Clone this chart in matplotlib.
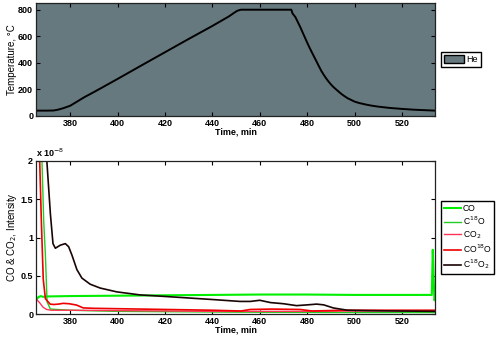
import matplotlib
matplotlib.use("Agg")
import matplotlib.pyplot as plt
import matplotlib.ticker as ticker
from matplotlib.patches import Patch

plt.rcParams["font.family"] = ["Liberation Sans", "DejaVu Sans"]

AX_BG = "#66797f"
EDGE = "#222222"

# temperature programme (He)
temp_time = [365, 370, 373, 375, 377, 380, 386, 390, 400, 410, 420, 430, 440, 447,
             449, 450.5, 452, 460, 470, 473.3, 473.8, 475, 477, 478, 480, 481,
             482, 484, 485, 486, 487, 488, 489, 490, 491, 492, 494, 495, 497,
             500, 502, 505, 507, 510, 515, 520, 525, 534]
temp_vals = [40, 40, 41, 48, 58, 77, 142, 180, 279, 380, 480, 580, 678, 750,
             775, 792, 800, 800, 800, 800, 772, 745, 672, 632, 552, 514,
             478, 408, 372, 338, 309, 283, 259, 238, 219, 203, 172, 158, 134,
             108, 97, 85, 78, 70, 60, 53, 47, 40]

# MS signals, in units of 1e-8
co_time = [365.5, 366.5, 367.5, 368.5, 370, 380, 400, 420, 440, 460, 480, 500,
           520, 532.6, 533.0, 533.4, 533.7, 534]
co_vals = [0.18, 0.22, 0.235, 0.225, 0.23, 0.235, 0.24, 0.245, 0.25, 0.255,
           0.255, 0.25, 0.25, 0.25, 0.84, 0.45, 0.18, 0.2]

c18o_time = [365.5, 368.0, 368.8, 369.5, 370.2, 371.6, 380, 400, 450, 500, 534]
c18o_vals = [3.0, 2.05, 1.2, 0.77, 0.16, 0.065, 0.05, 0.035, 0.025, 0.02, 0.02]

co2_time = [365.5, 367, 368.5, 370, 372, 380, 400, 420, 440, 460, 480, 500, 534]
co2_vals = [0.2, 0.15, 0.09, 0.06, 0.05, 0.05, 0.045, 0.04, 0.035, 0.035, 0.035,
            0.04, 0.04]

co18o_time = [365.5, 367.0, 367.8, 368.6, 369.5, 371.5, 373, 375, 377, 379.5,
              382.6, 385.5, 390, 400, 420, 440, 452, 456, 465, 477, 482, 495, 534]
co18o_vals = [3.0, 2.1, 1.2, 0.45, 0.2, 0.13, 0.125, 0.13, 0.14, 0.135,
              0.118, 0.08, 0.075, 0.07, 0.06, 0.05, 0.04, 0.06, 0.065, 0.06,
              0.04, 0.05, 0.05]

c18o2_time = [365.5, 370.0, 371.6, 372.7, 373.7, 375.8, 377.9, 379.3, 380.7,
              382.8, 384.9, 388.4, 392.6, 399.6, 409.5, 420, 440, 451.6, 456,
              460, 464.5, 470, 475.5, 480, 484, 487, 491, 497, 505, 519, 534]
c18o2_vals = [5.0, 2.05, 1.31, 0.92, 0.86, 0.90, 0.92, 0.88, 0.77, 0.58, 0.47,
              0.39, 0.34, 0.29, 0.25, 0.23, 0.19, 0.165, 0.165, 0.18, 0.15,
              0.135, 0.11, 0.12, 0.13, 0.12, 0.08, 0.05, 0.045, 0.04, 0.035]

time_ticks = [380, 400, 420, 440, 460, 480, 500, 520]


def style_axes(ax):
    ax.tick_params(direction="in", length=3, width=0.8, top=True, right=True,
                   labelsize=6.5, pad=2, colors="black")
    for lab in ax.get_xticklabels() + ax.get_yticklabels():
        lab.set_fontweight("bold")
    for sp in ax.spines.values():
        sp.set_color(EDGE)
        sp.set_linewidth(0.9)


fig = plt.figure(figsize=(4.99, 3.41), dpi=100)
ax1 = fig.add_axes([0.072, 0.66, 0.80, 0.331])
ax2 = fig.add_axes([0.072, 0.079, 0.80, 0.449])

# ── Temperature panel ────────────────────────────────────────────────────────
ax1.set_facecolor(AX_BG)
ax1.plot(temp_time, temp_vals, color="black", linewidth=1.4)
ax1.set_xlim(365.5, 534)
ax1.set_ylim(0, 850)
ax1.set_xticks(time_ticks)
ax1.set_yticks([0, 200, 400, 600, 800])
ax1.set_ylabel("Temperature, \u00b0C", fontsize=7, labelpad=1)
ax1.set_xlabel("Time, min", fontsize=6.5, fontweight="bold", labelpad=0)
style_axes(ax1)
ax1.legend(handles=[Patch(facecolor=AX_BG, edgecolor="black", label="He")],
           loc="center left", bbox_to_anchor=(1.015, 0.5), fontsize=6.5,
           fancybox=False, edgecolor="black", framealpha=1,
           handlelength=2.2, handleheight=1.1, borderpad=0.3,
           handletextpad=0.3, borderaxespad=0)

# ── MS signal panel ──────────────────────────────────────────────────────────
ax2.plot(co_time, co_vals, color="#00ee00", linewidth=1.5, label="CO")
ax2.plot(c18o_time, c18o_vals, color="#22cc22", linewidth=1.0,
         label=r"C$^{18}$O")
ax2.plot(co2_time, co2_vals, color="#ff3355", linewidth=1.0,
         label=r"CO$_2$")
ax2.plot(co18o_time, co18o_vals, color="#ee0000", linewidth=1.2,
         label=r"CO$^{18}$O")
ax2.plot(c18o2_time, c18o2_vals, color="#1a0505", linewidth=1.2,
         label=r"C$^{18}$O$_2$")
ax2.set_xlim(365.5, 534)
ax2.set_ylim(0, 2)
ax2.set_xticks(time_ticks)
ax2.set_yticks([0, 0.5, 1, 1.5, 2])
ax2.yaxis.set_major_formatter(ticker.FormatStrFormatter("%g"))
ax2.set_ylabel(r"CO & CO$_2$, Intensity", fontsize=7, labelpad=1)
ax2.set_xlabel("Time, min", fontsize=6.5, fontweight="bold", labelpad=0)
style_axes(ax2)
ax2.text(0.0, 1.015, r"x 10$^{-8}$", transform=ax2.transAxes, fontsize=6.5,
         fontweight="bold", va="bottom", ha="left")
ax2.legend(loc="center left", bbox_to_anchor=(1.015, 0.5), fontsize=6.2,
           fancybox=False, edgecolor="black", framealpha=1,
           handlelength=2.0, borderpad=0.3, labelspacing=0.25,
           handletextpad=0.2, borderaxespad=0)

fig.savefig("out.png", dpi=100)
